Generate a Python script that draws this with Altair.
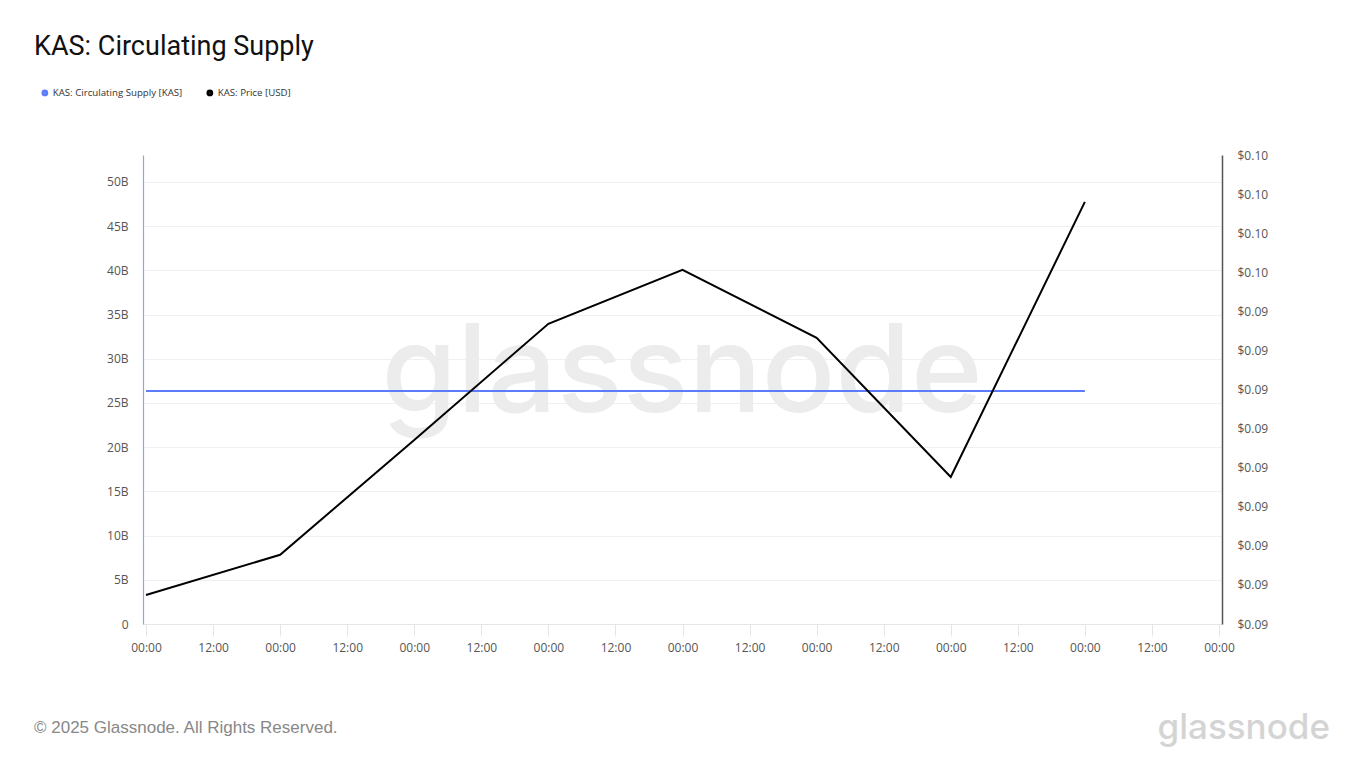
import altair as alt
import pandas as pd

# ---- data ----
dates = ["2025-06-01T00:00:00Z", "2025-06-02T00:00:00Z", "2025-06-03T00:00:00Z",
         "2025-06-04T00:00:00Z", "2025-06-05T00:00:00Z", "2025-06-06T00:00:00Z",
         "2025-06-07T00:00:00Z", "2025-06-08T00:00:00Z"]
supply = [26.36e9, 26.36e9, 26.36e9, 26.36e9, 26.36e9, 26.36e9, 26.36e9, 26.36e9]
price = [0.08734, 0.08837, 0.09131, 0.09428, 0.09566, 0.09392, 0.09036, 0.09740]

supply_label = "KAS: Circulating Supply [KAS]"
price_label = "KAS: Price [USD]"

left_ticks = [0, 5e9, 10e9, 15e9, 20e9, 25e9, 30e9, 35e9, 40e9, 45e9, 50e9]
right_ticks = [0.0866, 0.0876, 0.0886, 0.0896, 0.0906, 0.0916, 0.0926,
               0.0936, 0.0946, 0.0956, 0.0966, 0.0976, 0.0986]

BLUE = "#5c7cfa"
FONT = "Open Sans"

def ms(s):
    return int(pd.Timestamp(s).value // 1_000_000)

t_ms = [ms(d) for d in dates]
HALF_DAY = 12 * 3600 * 1000
x_tick_values = [t_ms[0] + i * HALF_DAY for i in range(17)]
pad = int(0.0224 * 24 * 3600 * 1000)
x_domain = [t_ms[0] - pad, x_tick_values[-1] + pad]

df_supply = pd.DataFrame({"t": t_ms, "v": supply, "series": supply_label})
df_price = pd.DataFrame({"t": t_ms, "v": price, "series": price_label})
one = pd.DataFrame({"a": [0]})

x_scale = alt.Scale(type="utc", domain=x_domain, nice=False)
x_axis = alt.Axis(
    title=None, format="%H:%M", values=x_tick_values,
    grid=False, domainColor="#e6e6e6", tickColor="#e6e6e6", tickSize=12,
    labelColor="#555555", labelFontSize=12, labelFont=FONT, labelPadding=6,
    labelFlush=False,
)

color = alt.Color(
    "series:N",
    scale=alt.Scale(domain=[supply_label, price_label], range=[BLUE, "#000000"]),
    legend=alt.Legend(
        title=None, orient="none", direction="horizontal", legendX=-103, legendY=-67,
        symbolType="circle", symbolSize=14, symbolStrokeWidth=3,
        labelFontSize=9.7, labelFont=FONT, labelColor="#333333", columnPadding=18,
        labelOffset=3,
    ),
)

supply_line = alt.Chart(df_supply).mark_line(strokeWidth=2).encode(
    x=alt.X("t:T", scale=x_scale, axis=x_axis),
    y=alt.Y("v:Q", scale=alt.Scale(domain=[0, 53.05e9], nice=False, zero=False),
            axis=alt.Axis(title=None, values=left_ticks, orient="left",
                          labelExpr="datum.value == 0 ? '0' : (datum.value / 1e9) + 'B'",
                          domainColor="#8fa3f2", domainWidth=1.2, ticks=False,
                          gridColor="#f0f0f0", labelColor="#555555", labelFontSize=12,
                          labelFont=FONT, labelPadding=15)),
    color=color,
)

price_line = alt.Chart(df_price).mark_line(strokeWidth=2).encode(
    x=alt.X("t:T", scale=x_scale, axis=x_axis),
    y=alt.Y("v:Q", scale=alt.Scale(domain=[0.0866, 0.0986], nice=False, zero=False),
            axis=alt.Axis(title=None, values=right_ticks, orient="right",
                          labelExpr="'$' + format(datum.value, '.2f')",
                          domainColor="#555555", domainWidth=1.5, ticks=False, grid=False,
                          labelColor="#555555", labelFontSize=12, labelFont=FONT,
                          labelPadding=15)),
    color=color,
)

watermark = alt.Chart(one).mark_text(
    text="glassnode", font="Inter", fontSize=122, fontWeight=500, color="#ececec",
    align="center", baseline="middle",
).encode(x=alt.value(539), y=alt.value(220))

title = alt.Chart(one).mark_text(
    text="KAS: Circulating Supply", font="Roboto", fontSize=27, color="#111111",
    align="left", baseline="middle",
).encode(x=alt.value(-109), y=alt.value(-108))

footer = alt.Chart(one).mark_text(
    text="© 2025 Glassnode. All Rights Reserved.", font="Liberation Sans", fontSize=17,
    color="#888888", align="left", baseline="middle",
).encode(x=alt.value(-109), y=alt.value(573))

logo = alt.Chart(one).mark_text(
    text="glassnode", font="Inter", fontSize=35, fontWeight=500, color="#d4d4d4",
    align="right", baseline="middle",
).encode(x=alt.value(1187), y=alt.value(573))

chart = alt.layer(
    watermark, supply_line, price_line, title, footer, logo
).resolve_scale(
    y="independent"
).properties(
    width=1079, height=469,
    autosize=alt.AutoSizeParams(type="none"),
    padding={"left": 143, "top": 155, "right": 143, "bottom": 144},
    background="white",
).configure_view(stroke=None)

chart.save("out.html", embed_options={"renderer": "svg", "actions": False})
